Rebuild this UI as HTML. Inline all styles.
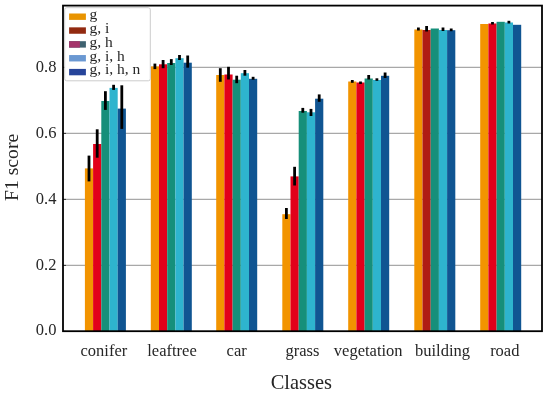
<!DOCTYPE html>
<html><head><meta charset="utf-8"><style>
html,body{margin:0;padding:0;background:#fff;width:550px;height:393px;overflow:hidden;}
svg{display:block;will-change:transform;font-family:"Liberation Serif",serif;}
</style></head><body>
<svg width="550" height="393" viewBox="0 0 550 393">
<rect x="0" y="0" width="550" height="393" fill="#fff"/>
<line x1="63.0" x2="542.0" y1="265.40" y2="265.40" stroke="#a8a8a8" stroke-width="1.3"/>
<line x1="63.0" x2="542.0" y1="199.40" y2="199.40" stroke="#a8a8a8" stroke-width="1.3"/>
<line x1="63.0" x2="542.0" y1="133.40" y2="133.40" stroke="#a8a8a8" stroke-width="1.3"/>
<line x1="63.0" x2="542.0" y1="67.40" y2="67.40" stroke="#a8a8a8" stroke-width="1.3"/>
<rect x="84.90" y="168.40" width="8.20" height="162.80" fill="#F29400"/>
<rect x="93.10" y="144.00" width="8.20" height="187.20" fill="#E2001A"/>
<rect x="101.30" y="101.00" width="8.20" height="230.20" fill="#168F7A"/>
<rect x="109.50" y="87.90" width="8.20" height="243.30" fill="#2EB4CE"/>
<rect x="117.70" y="108.60" width="8.20" height="222.60" fill="#105592"/>
<rect x="150.80" y="66.40" width="8.20" height="264.80" fill="#F29400"/>
<rect x="159.00" y="64.30" width="8.20" height="266.90" fill="#E2001A"/>
<rect x="167.20" y="63.00" width="8.20" height="268.20" fill="#168F7A"/>
<rect x="175.40" y="58.20" width="8.20" height="273.00" fill="#2EB4CE"/>
<rect x="183.60" y="62.70" width="8.20" height="268.50" fill="#105592"/>
<rect x="216.20" y="75.00" width="8.20" height="256.20" fill="#F29400"/>
<rect x="224.40" y="74.50" width="8.20" height="256.70" fill="#E2001A"/>
<rect x="232.60" y="79.70" width="8.20" height="251.50" fill="#168F7A"/>
<rect x="240.80" y="73.20" width="8.20" height="258.00" fill="#2EB4CE"/>
<rect x="249.00" y="78.80" width="8.20" height="252.40" fill="#105592"/>
<rect x="282.30" y="214.20" width="8.20" height="117.00" fill="#F29400"/>
<rect x="290.50" y="176.40" width="8.20" height="154.80" fill="#E2001A"/>
<rect x="298.70" y="111.00" width="8.20" height="220.20" fill="#168F7A"/>
<rect x="306.90" y="112.30" width="8.20" height="218.90" fill="#2EB4CE"/>
<rect x="315.10" y="98.70" width="8.20" height="232.50" fill="#105592"/>
<rect x="348.20" y="81.50" width="8.20" height="249.70" fill="#F29400"/>
<rect x="356.40" y="82.50" width="8.20" height="248.70" fill="#E2001A"/>
<rect x="364.60" y="78.50" width="8.20" height="252.70" fill="#168F7A"/>
<rect x="372.80" y="80.00" width="8.20" height="251.20" fill="#2EB4CE"/>
<rect x="381.00" y="75.80" width="8.20" height="255.40" fill="#105592"/>
<rect x="414.30" y="29.50" width="8.20" height="301.70" fill="#F29400"/>
<rect x="422.50" y="30.00" width="8.20" height="301.20" fill="#B01C14"/>
<rect x="430.70" y="28.50" width="8.20" height="302.70" fill="#168F7A"/>
<rect x="438.90" y="30.00" width="8.20" height="301.20" fill="#2EB4CE"/>
<rect x="447.10" y="30.20" width="8.20" height="301.00" fill="#105592"/>
<rect x="480.20" y="24.00" width="8.20" height="307.20" fill="#F29400"/>
<rect x="488.40" y="23.50" width="8.20" height="307.70" fill="#E2001A"/>
<rect x="496.60" y="21.80" width="8.20" height="309.40" fill="#168F7A"/>
<rect x="504.80" y="22.50" width="8.20" height="308.70" fill="#2EB4CE"/>
<rect x="513.00" y="24.80" width="8.20" height="306.40" fill="#105592"/>
<line x1="89.00" x2="89.00" y1="155.60" y2="181.40" stroke="#000" stroke-width="2.8"/>
<line x1="97.20" x2="97.20" y1="129.30" y2="157.70" stroke="#000" stroke-width="2.8"/>
<line x1="105.40" x2="105.40" y1="91.20" y2="109.90" stroke="#000" stroke-width="2.8"/>
<line x1="113.60" x2="113.60" y1="84.80" y2="89.90" stroke="#000" stroke-width="2.8"/>
<line x1="121.80" x2="121.80" y1="85.30" y2="128.90" stroke="#000" stroke-width="2.8"/>
<line x1="154.90" x2="154.90" y1="63.60" y2="69.10" stroke="#000" stroke-width="2.8"/>
<line x1="163.10" x2="163.10" y1="60.00" y2="68.20" stroke="#000" stroke-width="2.8"/>
<line x1="171.30" x2="171.30" y1="59.10" y2="65.00" stroke="#000" stroke-width="2.8"/>
<line x1="179.50" x2="179.50" y1="55.00" y2="60.00" stroke="#000" stroke-width="2.8"/>
<line x1="187.70" x2="187.70" y1="55.50" y2="67.70" stroke="#000" stroke-width="2.8"/>
<line x1="220.30" x2="220.30" y1="68.20" y2="81.80" stroke="#000" stroke-width="2.8"/>
<line x1="228.50" x2="228.50" y1="66.80" y2="79.50" stroke="#000" stroke-width="2.8"/>
<line x1="236.70" x2="236.70" y1="75.70" y2="83.20" stroke="#000" stroke-width="2.8"/>
<line x1="244.90" x2="244.90" y1="70.00" y2="75.70" stroke="#000" stroke-width="2.8"/>
<line x1="253.10" x2="253.10" y1="76.80" y2="79.70" stroke="#000" stroke-width="2.8"/>
<line x1="286.40" x2="286.40" y1="208.00" y2="219.00" stroke="#000" stroke-width="2.8"/>
<line x1="294.60" x2="294.60" y1="166.80" y2="185.50" stroke="#000" stroke-width="2.8"/>
<line x1="302.80" x2="302.80" y1="107.90" y2="112.70" stroke="#000" stroke-width="2.8"/>
<line x1="311.00" x2="311.00" y1="108.90" y2="116.00" stroke="#000" stroke-width="2.8"/>
<line x1="319.20" x2="319.20" y1="94.40" y2="101.80" stroke="#000" stroke-width="2.8"/>
<line x1="352.30" x2="352.30" y1="80.00" y2="82.80" stroke="#000" stroke-width="2.8"/>
<line x1="360.50" x2="360.50" y1="81.50" y2="84.00" stroke="#000" stroke-width="2.8"/>
<line x1="368.70" x2="368.70" y1="75.00" y2="79.50" stroke="#000" stroke-width="2.8"/>
<line x1="376.90" x2="376.90" y1="78.30" y2="80.80" stroke="#000" stroke-width="2.8"/>
<line x1="385.10" x2="385.10" y1="72.50" y2="78.00" stroke="#000" stroke-width="2.8"/>
<line x1="418.40" x2="418.40" y1="27.50" y2="30.50" stroke="#000" stroke-width="2.8"/>
<line x1="426.60" x2="426.60" y1="26.00" y2="31.50" stroke="#000" stroke-width="2.8"/>
<line x1="443.00" x2="443.00" y1="27.50" y2="31.00" stroke="#000" stroke-width="2.8"/>
<line x1="451.20" x2="451.20" y1="28.50" y2="31.20" stroke="#000" stroke-width="2.8"/>
<line x1="492.50" x2="492.50" y1="22.00" y2="24.50" stroke="#000" stroke-width="2.8"/>
<line x1="508.90" x2="508.90" y1="20.80" y2="23.50" stroke="#000" stroke-width="2.8"/>
<line x1="63.0" x2="66.0" y1="331.40" y2="331.40" stroke="#333" stroke-width="1"/>
<text x="56.4" y="335.40" text-anchor="end" font-family="Liberation Serif" font-size="16.5" fill="#262626">0.0</text>
<line x1="63.0" x2="66.0" y1="265.40" y2="265.40" stroke="#333" stroke-width="1"/>
<text x="56.4" y="269.65" text-anchor="end" font-family="Liberation Serif" font-size="16.5" fill="#262626">0.2</text>
<line x1="63.0" x2="66.0" y1="199.40" y2="199.40" stroke="#333" stroke-width="1"/>
<text x="56.4" y="203.90" text-anchor="end" font-family="Liberation Serif" font-size="16.5" fill="#262626">0.4</text>
<line x1="63.0" x2="66.0" y1="133.40" y2="133.40" stroke="#333" stroke-width="1"/>
<text x="56.4" y="138.15" text-anchor="end" font-family="Liberation Serif" font-size="16.5" fill="#262626">0.6</text>
<line x1="63.0" x2="66.0" y1="67.40" y2="67.40" stroke="#333" stroke-width="1"/>
<text x="56.4" y="72.40" text-anchor="end" font-family="Liberation Serif" font-size="16.5" fill="#262626">0.8</text>
<rect x="63.0" y="5.6" width="479.0" height="325.59999999999997" fill="none" stroke="#000" stroke-width="1.8"/>
<text x="103.9" y="355.6" text-anchor="middle" font-family="Liberation Serif" font-size="16.5" fill="#262626">conifer</text>
<text x="172.0" y="355.6" text-anchor="middle" font-family="Liberation Serif" font-size="16.5" fill="#262626">leaftree</text>
<text x="236.7" y="355.6" text-anchor="middle" font-family="Liberation Serif" font-size="16.5" fill="#262626">car</text>
<text x="302.5" y="355.6" text-anchor="middle" font-family="Liberation Serif" font-size="16.5" fill="#262626">grass</text>
<text x="368.2" y="355.6" text-anchor="middle" font-family="Liberation Serif" font-size="16.5" fill="#262626">vegetation</text>
<text x="442.5" y="355.6" text-anchor="middle" font-family="Liberation Serif" font-size="16.5" fill="#262626">building</text>
<text x="504.8" y="355.6" text-anchor="middle" font-family="Liberation Serif" font-size="16.5" fill="#262626">road</text>
<text x="301.3" y="388.5" text-anchor="middle" font-family="Liberation Serif" font-size="20.4" fill="#262626">Classes</text>
<text transform="translate(17.5,167.4) rotate(-90)" x="0" y="0" text-anchor="middle" font-family="Liberation Serif" font-size="19.7" fill="#262626">F1 score</text>
<rect x="64.7" y="7.7" width="85.6" height="73.1" rx="2" ry="2" fill="#fff" fill-opacity="1" stroke="#cccccc" stroke-width="1"/>
<rect x="69.1" y="13.50" width="16.8" height="6.4" fill="#E99400"/>
<text x="89.4" y="19.00" font-family="Liberation Serif" font-size="15.5" fill="#262626">g</text>
<rect x="69.1" y="27.35" width="16.8" height="6.4" fill="#922A10"/>
<text x="89.4" y="32.85" font-family="Liberation Serif" font-size="15.5" fill="#262626">g, i</text>
<rect x="69.1" y="41.20" width="16.8" height="6.4" fill="#3F6270"/>
<rect x="69.1" y="41.20" width="10.8" height="6.4" fill="#A4336A"/>
<text x="89.4" y="46.70" font-family="Liberation Serif" font-size="15.5" fill="#262626">g, h</text>
<rect x="69.1" y="55.05" width="16.8" height="6.4" fill="#6A98D2"/>
<text x="89.4" y="60.55" font-family="Liberation Serif" font-size="15.5" fill="#262626">g, i, h</text>
<rect x="69.1" y="68.90" width="16.8" height="6.4" fill="#26449A"/>
<text x="89.4" y="74.40" font-family="Liberation Serif" font-size="15.5" fill="#262626">g, i, h, n</text>
</svg>
</body></html>
